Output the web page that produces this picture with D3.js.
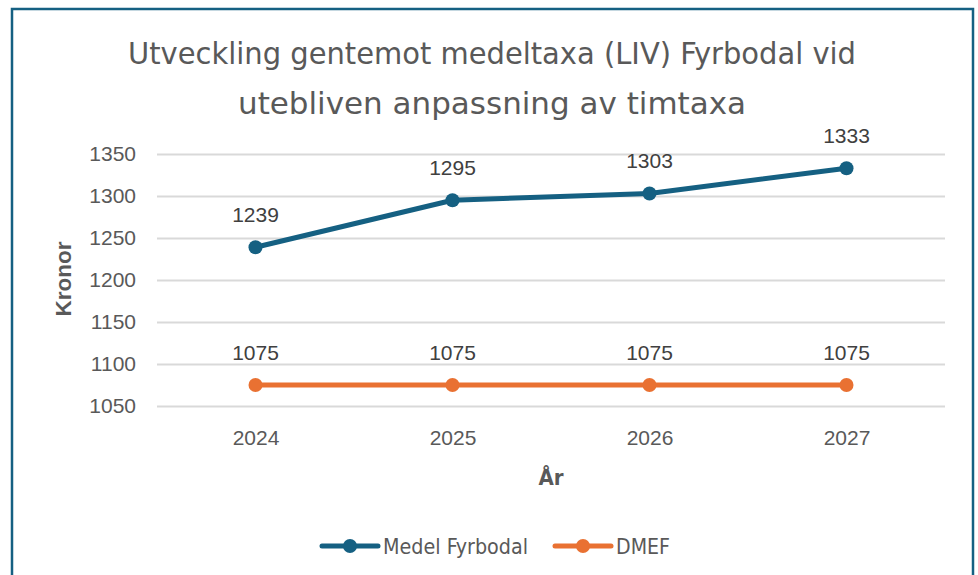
<!DOCTYPE html>
<html><head><meta charset="utf-8">
<script src="https://cdn.jsdelivr.net/npm/d3@7"></script>
<style>
html,body{margin:0;padding:0;background:#fff;}
svg{display:block;}
</style></head>
<body>
<svg id="c" width="978" height="575"></svg>
<script>
const years = ["2024","2025","2026","2027"];
const medelFyrbodal = [1239, 1295, 1303, 1333];
const dmef = [1075, 1075, 1075, 1075];
const yTicks = [1050, 1100, 1150, 1200, 1250, 1300, 1350];
const seriesNames = ["Medel Fyrbodal", "DMEF"];
const seriesColors = ["#156082", "#E97132"];
const titleLines = ["Utveckling gentemot medeltaxa (LIV) Fyrbodal vid", "utebliven anpassning av timtaxa"];

const svg = d3.select("#c");
const narrow = "'Liberation Sans Narrow','DejaVu Sans Condensed','Roboto Condensed',sans-serif";
const reg = "'Liberation Sans',Arial,sans-serif";

// frame
svg.append("rect").attr("x", 12).attr("y", 9).attr("width", 961).attr("height", 580)
  .attr("fill", "#fff").attr("stroke", "#156082").attr("stroke-width", 2.5);

const plot = {l: 157, r: 945, t: 154, b: 406};
const x = d3.scalePoint().domain(years).range([plot.l, plot.r]).padding(0.5);
const y = d3.scaleLinear().domain([1050, 1350]).range([plot.b, plot.t]);

// title
const titleW = [728, 508];
titleLines.forEach((t, i) => svg.append("text").attr("text-anchor", "middle").attr("fill", "#595959")
  .style("font-family", narrow).style("font-size", "31px")
  .attr("x", 492).attr("y", 64 + i * 50)
  .attr("textLength", titleW[i]).attr("lengthAdjust", "spacingAndGlyphs").text(t));

// gridlines
const yAxis = d3.axisLeft(y).tickValues(yTicks).tickSize(-(plot.r - plot.l)).tickPadding(21).tickFormat(d3.format("d"));
const gy = svg.append("g").attr("transform", `translate(${plot.l},0)`).call(yAxis);
gy.select(".domain").remove();
gy.selectAll(".tick line").attr("stroke", "#d9d9d9").attr("stroke-width", 2);
gy.selectAll(".tick text").attr("fill", "#595959").style("font-family", reg).style("font-size", "21px");

const xAxis = d3.axisBottom(x).tickSize(0).tickPadding(24);
const gx = svg.append("g").attr("transform", `translate(0,${plot.b})`).call(xAxis);
gx.select(".domain").remove();
gx.selectAll(".tick text").attr("fill", "#595959").style("font-family", reg).style("font-size", "21px");

// axis titles
svg.append("text").attr("transform", `translate(71,279) rotate(-90)`)
  .attr("text-anchor", "middle").attr("fill", "#595959")
  .style("font-family", reg).style("font-weight", "bold").style("font-size", "22px")
  .attr("textLength", 75).attr("lengthAdjust", "spacingAndGlyphs").text("Kronor");
svg.append("text").attr("x", 551).attr("y", 485).attr("text-anchor", "middle").attr("fill", "#595959")
  .style("font-family", narrow).style("font-weight", "bold").style("font-size", "22px").text("År");

// series
const allSeries = [medelFyrbodal, dmef];
const line = d3.line().x((d, i) => x(years[i])).y(d => y(d));
allSeries.forEach((s, k) => {
  const g = svg.append("g");
  g.append("path").datum(s).attr("d", line).attr("fill", "none")
    .attr("stroke", seriesColors[k]).attr("stroke-width", 5).attr("stroke-linejoin", "round").attr("stroke-linecap", "round");
  g.selectAll("circle").data(s).join("circle")
    .attr("cx", (d, i) => x(years[i])).attr("cy", d => y(d)).attr("r", 7).attr("fill", seriesColors[k]);
  g.selectAll("text").data(s).join("text")
    .attr("x", (d, i) => x(years[i])).attr("y", d => y(d) - 25)
    .attr("text-anchor", "middle").attr("fill", "#404040")
    .style("font-family", reg).style("font-size", "21px").text(d => d);
});

// legend
const legendX = [322, 555];
const legendW = [145, 54];
seriesNames.forEach((n, k) => {
  const g = svg.append("g").attr("transform", `translate(${legendX[k]},546)`);
  g.append("line").attr("x1", 0).attr("x2", 56).attr("stroke", seriesColors[k]).attr("stroke-width", 5).attr("stroke-linecap", "round");
  g.append("circle").attr("cx", 28).attr("r", 7).attr("fill", seriesColors[k]);
  g.append("text").attr("x", 61).attr("y", 8).attr("fill", "#595959")
    .style("font-family", narrow).style("font-size", "21px")
    .attr("textLength", legendW[k]).attr("lengthAdjust", "spacingAndGlyphs").text(n);
});
</script>
</body></html>
